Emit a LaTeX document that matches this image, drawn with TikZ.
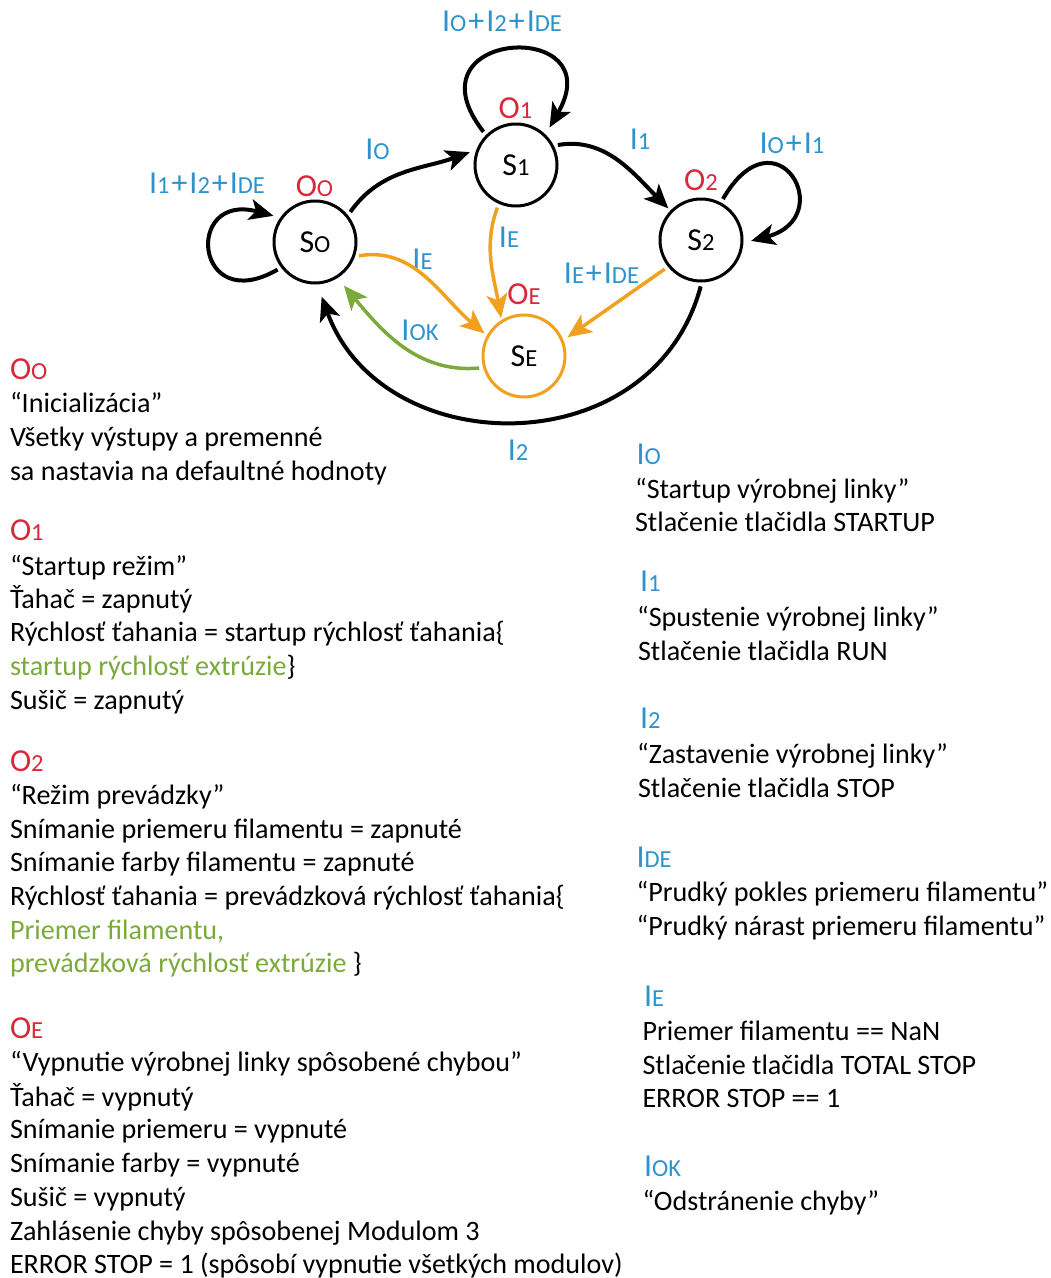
\documentclass[tikz,border=0pt]{standalone}
\usepackage{fontspec}
\setmainfont{Carlito}
\usetikzlibrary{arrows.meta}
\definecolor{cblue}{HTML}{2E93CD}
\definecolor{cred}{HTML}{D8283A}
\definecolor{corange}{HTML}{F2A11F}
\definecolor{cgreen}{HTML}{7BAA3A}
\newcommand\sm[1]{{\fontsize{24.5pt}{24.5pt}\selectfont #1}}
\newcommand\pl{\kern2pt+\kern2pt}
\begin{document}
\begin{tikzpicture}[x=1pt,y=1pt,
  every node/.style={font=\fontsize{28.1pt}{33.6pt}\selectfont, inner sep=0pt, outer sep=0pt},
  big/.style={font=\fontsize{32pt}{32pt}\selectfont},
  state/.style={circle, draw, line width=3pt, minimum size=82pt, inner sep=0pt, outer sep=1.5pt, big},
  txt/.style={anchor=base west},
  lbl/.style={text=cblue, big},
  outl/.style={text=cred, big},
  arr/.style={line width=4pt, -{Stealth[length=24pt,width=21pt,inset=6pt]}, shorten <=4pt},
  oarr/.style={arr, draw=corange, line width=3.5pt},
  garr/.style={arr, draw=cgreen, line width=3.5pt}]
\useasboundingbox (0,0) rectangle (1051,-1278);

% states
\node[state] (s0) at (315,-242) {S\sm{O}};
\node[state] (s1) at (516,-165) {S\sm{1}};
\node[state] (s2) at (701,-240) {S\sm{2}};
\node[state, draw=corange] (se) at (524,-356) {S\sm{E}};

% output labels
\node[outl] (o0) at (314.5,-186) {O\sm{O}};
\node[outl] (o1) at (515.5,-108.5) {O\sm{1}};
\node[outl] (o2) at (701,-180) {O\sm{2}};
\node[outl] (oe) at (524,-294) {O\sm{E}};

% transition labels
\node[lbl] (lloop0) at (207,-183.5) {I\sm{1}\pl I\sm{2}\pl I\sm{DE}};
\node[lbl] (l01) at (377.5,-149) {I\sm{O}};
\node[lbl] (lloop1) at (502,-21.5) {I\sm{O}\pl I\sm{2}\pl I\sm{DE}};
\node[lbl] (l12) at (640,-139) {I\sm{1}};
\node[lbl] (lloop2) at (792,-143) {I\sm{O}\pl I\sm{1}};
\node[lbl] (le0) at (422.5,-259) {I\sm{E}};
\node[lbl] (le1) at (509,-237) {I\sm{E}};
\node[lbl] (le2) at (601.5,-273) {I\sm{E}\pl I\sm{DE}};
\node[lbl] (lok) at (420,-330) {I\sm{OK}};
\node[lbl] (l20) at (518,-450) {I\sm{2}};

% transitions
\draw[arr, shorten >=7pt] (s0.39) to[out=55, in=200] (s1.159);
\draw[arr, shorten >=7pt] (s0.217) .. controls +(210:100) and +(165:100) .. (s0.145);
\draw[arr, shorten >=8pt] (s1.135) .. controls +(128:135) and +(60:135) .. (s1.46);
\draw[arr, shorten >=3pt] (s1.27) to[out=10, in=135] (s2.136);
\draw[arr, shorten >=8pt] (s2.62) .. controls +(60:110) and +(15:100) .. (s2.-4);
\draw[arr, shorten >=13pt] (s2.-89) .. controls +(-105:190) and +(-70:190) .. (s0.-87);
\draw[oarr, shorten >=5pt] (s2.219) -- (se.22);
\draw[oarr, shorten >=2pt] (s1.246) to[out=250, in=100] (se.122);
\draw[oarr, shorten >=3pt] (s0.-20) to[out=10, in=140] (se.151);
\draw[garr, shorten >=10pt] (se.196) to[out=185, in=-50] (s0.-58);

% left descriptions
\node[txt, outl] (h0) at (10,-379.3) {O\sm{O}};
\node[txt] (a1) at (10,-412.7) {“Inicializácia”};
\node[txt] (a2) at (10,-446.4) {Všetky výstupy a premenné};
\node[txt] (a3) at (10,-480) {sa nastavia na defaultné hodnoty};

\node[txt, outl] (h1) at (10,-540.7) {O\sm{1}};
\node[txt] (b1) at (10,-575) {“Startup režim”};
\node[txt] (b2) at (10,-608.3) {Ťahač = zapnutý};
\node[txt] (b3) at (10,-641.7) {Rýchlosť ťahania = startup rýchlosť ťahania\{};
\node[txt] (b4) at (10,-675) {\textcolor{cgreen}{startup rýchlosť extrúzie}\}};
\node[txt] (b5) at (10,-709.3) {Sušič = zapnutý};

\node[txt, outl] (h2) at (10,-771) {O\sm{2}};
\node[txt] (c1) at (10,-804.6) {“Režim prevádzky”};
\node[txt] (c2) at (10,-838.2) {Snímanie priemeru filamentu = zapnuté};
\node[txt] (c3) at (10,-871.8) {Snímanie farby filamentu = zapnuté};
\node[txt] (c4) at (10,-905.4) {Rýchlosť ťahania = prevádzková rýchlosť ťahania\{};
\node[txt] (c5) at (10,-939) {\textcolor{cgreen}{Priemer filamentu,}};
\node[txt] (c6) at (10,-972.6) {\textcolor{cgreen}{prevádzková rýchlosť extrúzie} \}};

\node[txt, outl] (h3) at (10,-1038) {O\sm{E}};
\node[txt] (d1) at (10,-1071.7) {“Vypnutie výrobnej linky spôsobené chybou”};
\node[txt] (d2) at (10,-1106) {Ťahač = vypnutý};
\node[txt] (d3) at (10,-1138.5) {Snímanie priemeru = vypnuté};
\node[txt] (d4) at (10,-1172.5) {Snímanie farby = vypnuté};
\node[txt] (d5) at (10,-1206) {Sušič = vypnutý};
\node[txt] (d6) at (10,-1240) {Zahlásenie chyby spôsobenej Modulom 3};
\node[txt] (d7) at (10,-1273.3) {ERROR STOP = 1 (spôsobí vypnutie všetkých modulov)};

% right descriptions
\node[txt, lbl] (i0) at (636.5,-464.3) {I\sm{O}};
\node[txt] (e1) at (635,-498.3) {“Startup výrobnej linky”};
\node[txt] (e2) at (635,-531.7) {Stlačenie tlačidla STARTUP};

\node[txt, lbl] (i1) at (640,-591.7) {I\sm{1}};
\node[txt] (f1) at (637,-626.7) {“Spustenie výrobnej linky”};
\node[txt] (f2) at (638,-660) {Stlačenie tlačidla RUN};

\node[txt, lbl] (i2) at (640,-728.3) {I\sm{2}};
\node[txt] (g1) at (637,-763) {“Zastavenie výrobnej linky”};
\node[txt] (g2) at (638,-797) {Stlačenie tlačidla STOP};

\node[txt, lbl] (ide) at (636.5,-867.3) {I\sm{DE}};
\node[txt] (k1) at (636.5,-901.7) {“Prudký pokles priemeru filamentu”};
\node[txt] (k2) at (636.5,-935) {“Prudký nárast priemeru filamentu”};

\node[txt, lbl] (ie) at (644,-1006) {I\sm{E}};
\node[txt] (m1) at (642.5,-1040.7) {Priemer filamentu == NaN};
\node[txt] (m2) at (642.5,-1074) {Stlačenie tlačidla TOTAL STOP};
\node[txt] (m3) at (642.5,-1107.3) {ERROR STOP == 1};

\node[txt, lbl] (iok) at (644,-1176.7) {I\sm{OK}};
\node[txt] (n1) at (642.5,-1210.7) {“Odstránenie chyby”};
\end{tikzpicture}
\end{document}
